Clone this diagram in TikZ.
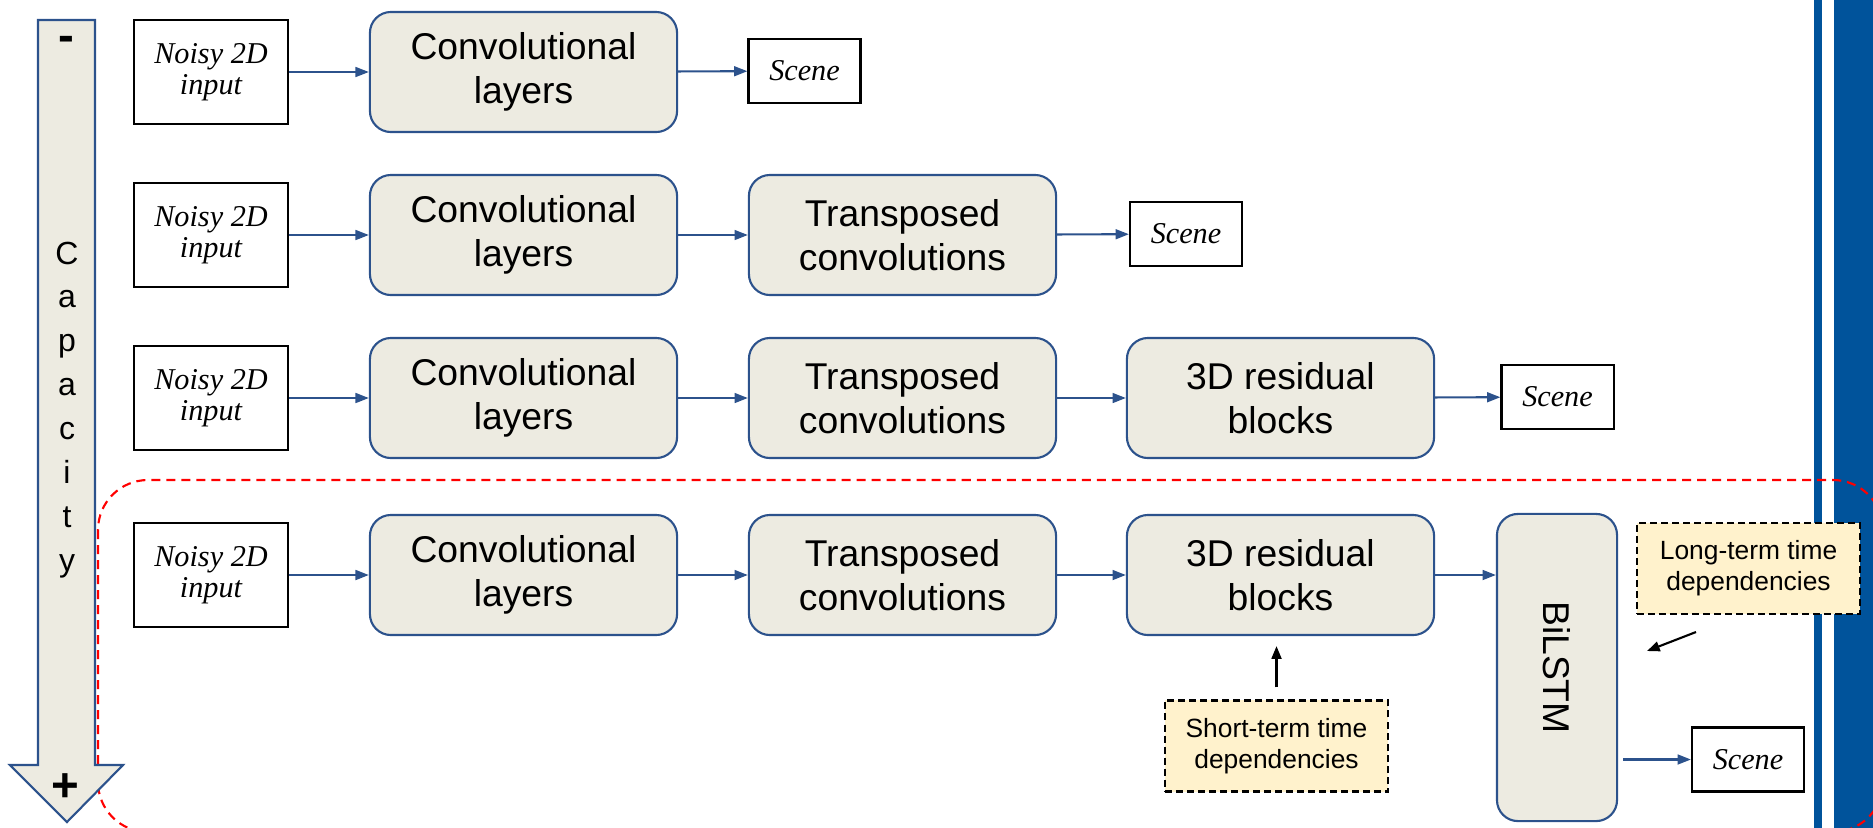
\documentclass[tikz,border=0pt]{standalone}
\usepackage{fontspec}
\setmainfont{Liberation Sans}
\newfontfamily\serifit{Liberation Serif}
\usetikzlibrary{arrows.meta}

\definecolor{boxfill}{RGB}{237,235,225}
\definecolor{boxline}{RGB}{44,82,140}
\definecolor{notefill}{RGB}{255,242,204}
\definecolor{barblue}{RGB}{0,83,155}
\definecolor{groupred}{RGB}{255,0,0}

\begin{document}
\begin{tikzpicture}[x=0.01cm,y=-0.01cm,
  blk/.style={draw=boxline, fill=boxfill, line width=0.6pt, rounded corners=0.21cm,
    minimum width=3.07cm, minimum height=1.2cm, inner sep=0pt, align=center,
    font=\fontsize{10.6}{12.5}\selectfont},
  io/.style={draw=black, fill=white, line width=0.6pt, inner sep=0pt, align=center,
    font=\serifit\itshape\fontsize{8.6}{8.9}\selectfont},
  noisy/.style={io, minimum width=1.54cm, minimum height=1.04cm},
  scene/.style={io, minimum width=1.12cm, minimum height=0.64cm},
  note/.style={draw=black, dash pattern=on 0.07cm off 0.04cm, fill=notefill,
    line width=0.7pt, minimum width=2.23cm, minimum height=0.91cm, inner sep=0pt,
    align=center, font=\fontsize{7.5}{8.8}\selectfont},
  flow/.style={draw=boxline, line width=0.6pt, -{Triangle[length=3.8pt,width=2.8pt]}},
  hint/.style={draw=black, line width=0.6pt, -{Triangle[length=3.6pt,width=2.8pt]}}
]
\useasboundingbox (0,0) rectangle (1873,827);

% side bars on the right edge
\fill[barblue] (1814,-5) rectangle (1822,835);
\fill[barblue] (1834,-5) rectangle (1880,835);

% dashed group around the full model
\draw[groupred, line width=0.6pt, dash pattern=on 0.09cm off 0.06cm, rounded corners=0.5cm]
  (98,480) rectangle (1883,832);

% capacity arrow
\draw[boxline, fill=boxfill, line width=0.6pt, line join=miter]
  (38,20) -- (95,20) -- (95,765) -- (123,765) -- (67,822) -- (10,765) -- (38,765) -- cycle;
\node[font=\bfseries\fontsize{13.5}{14}\selectfont] (minus) at (66,44) {-};
\node[font=\fontsize{13.5}{14}\selectfont\bfseries] (plus) at (65,788) {+};
\node[align=center, inner sep=0pt, font=\fontsize{9.1}{12.5}\selectfont] (cap) at (67,410)
  {C\\a\\p\\a\\c\\i\\t\\y};

% row 1
\node[noisy] (n1) at (211,72) {Noisy 2D\\input};
\node[blk] (c1) at (523.5,72) {Convolutional\\layers};
\node[scene] (s1) at (804.5,71) {Scene};
\draw[flow] (n1) -- (c1);
\draw[flow] (c1) -- (s1);

% row 2
\node[noisy] (n2) at (211,235) {Noisy 2D\\input};
\node[blk] (c2) at (523.5,235) {Convolutional\\layers};
\node[blk] (t2) at (902.5,235) {Transposed\\convolutions};
\node[scene] (s2) at (1186,234) {Scene};
\draw[flow] (n2) -- (c2);
\draw[flow] (c2) -- (t2);
\draw[flow] (t2) -- (s2);

% row 3
\node[noisy] (n3) at (211,398) {Noisy 2D\\input};
\node[blk] (c3) at (523.5,398) {Convolutional\\layers};
\node[blk] (t3) at (902.5,398) {Transposed\\convolutions};
\node[blk] (r3) at (1280.5,398) {3D residual\\blocks};
\node[scene] (s3) at (1557.5,397) {Scene};
\draw[flow] (n3) -- (c3);
\draw[flow] (c3) -- (t3);
\draw[flow] (t3) -- (r3);
\draw[flow] (r3) -- (s3);

% row 4
\node[noisy] (n4) at (211,575) {Noisy 2D\\input};
\node[blk] (c4) at (523.5,575) {Convolutional\\layers};
\node[blk] (t4) at (902.5,575) {Transposed\\convolutions};
\node[blk] (r4) at (1280.5,575) {3D residual\\blocks};
\node[blk, minimum width=1.2cm, minimum height=3.07cm] (bl) at (1557,667.5)
  {\rotatebox{-90}{BiLSTM}};
\node[scene] (s4) at (1748,759.5) {Scene};
\draw[flow] (n4) -- (c4);
\draw[flow] (c4) -- (t4);
\draw[flow] (t4) -- (r4);
\draw[flow] (r4) -- (r4.east -| bl.west);
\draw[flow] ([xshift=0.05cm]s4.west -| bl.east) -- (s4.west);

% annotations
\node[note] (short) at (1276.5,746) {Short-term time\\dependencies};
\node[note] (long) at (1748.5,568.5) {Long-term time\\dependencies};
\draw[hint, shorten <=0.12cm, shorten >=0.1cm] (short.north) -- (short.north |- r4.south);
\coordinate (ltail) at (1696,632);
\coordinate (lhead) at (1647,651);
\draw[hint] (ltail) -- (lhead);
\end{tikzpicture}
\end{document}
